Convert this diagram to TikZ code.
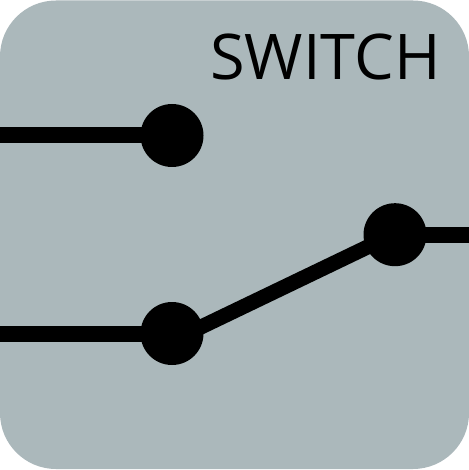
\documentclass[tikz,border=0pt]{standalone}
\usepackage{fontspec}
\setmainfont{Open Sans}
\tikzset{
  terminal/.style={circle,fill=black,inner sep=0pt,minimum size=63bp},
  wire/.style={line width=16bp,black},
  arm/.style={line width=15bp,black},
  panel/.style={fill=panelgrey,rounded corners=56bp},
}
\definecolor{panelgrey}{HTML}{ABB8BB}
\begin{document}
\begin{tikzpicture}[x=1bp,y=-1bp]
\useasboundingbox (0,0) rectangle (469,470);
\fill[white] (0,0) rectangle (469,470);
\path[panel] (0,0.5) rectangle (469,469);
\coordinate (l1) at (0,135.5);
\coordinate (l2) at (0,333.5);
\coordinate (r) at (469,234.7);
\coordinate (armb) at (185,334.7);
\coordinate (armc) at (380,241);
\node[terminal] (a) at (172,135.5) {};
\node[terminal] (b) at (172,333.5) {};
\node[terminal] (c) at (395,234.7) {};
\draw[wire] (l1) -- (a.center);
\draw[wire] (l2) -- (b.center);
\draw[arm] (armb) -- (armc);
\draw[wire] (c.center) -- (r);
\node[anchor=base,font=\fontsize{63bp}{63bp}\selectfont,text=black,inner sep=0pt] (t) at (325.5,80) {SWITCH};
\end{tikzpicture}
\end{document}
